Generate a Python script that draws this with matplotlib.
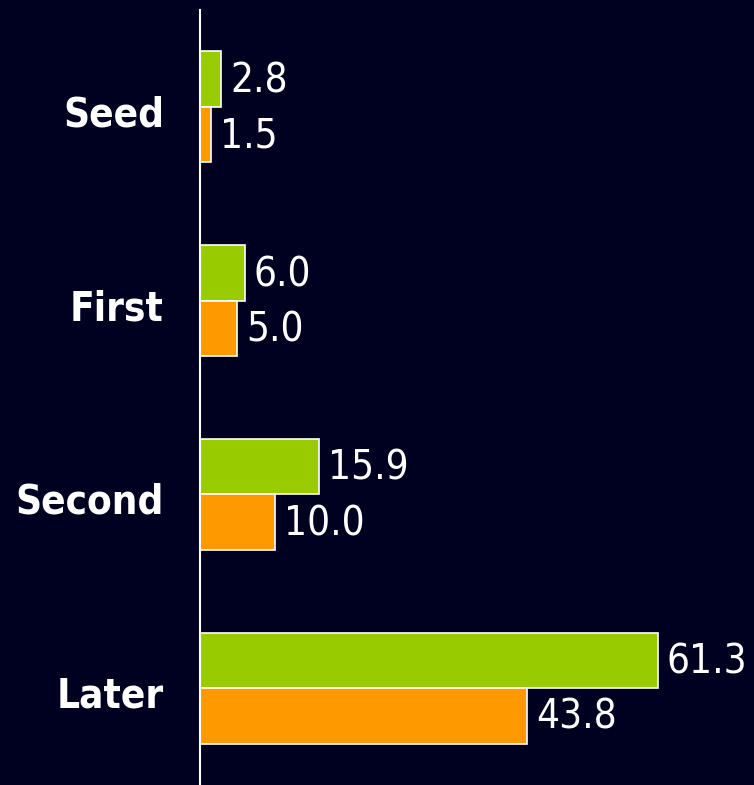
import matplotlib
matplotlib.use("Agg")
import matplotlib.pyplot as plt
import matplotlib.transforms as mtransforms
import numpy as np

categories = ["Seed", "First", "Second", "Later"]
series_a = [2.8, 6.0, 15.9, 61.3]   # green
series_b = [1.5, 5.0, 10.0, 43.8]   # orange
value_labels_a = ["2.8", "6.0", "15.9", "61.3"]
value_labels_b = ["1.5", "5.0", "10.0", "43.8"]

bg = "#000020"
green = "#99CC00"
orange = "#FF9900"

fig = plt.figure(figsize=(7.54, 7.85), dpi=100, facecolor=bg)
ax = fig.add_axes([200/754, 0, 554/754, 775/785], facecolor=bg)

y = np.arange(len(categories))
h = 0.286
ax.barh(y - h/2, series_a, height=h, color=green, edgecolor="white", linewidth=1.2)
ax.barh(y + h/2, series_b, height=h, color=orange, edgecolor="white", linewidth=1.2)

ax.set_xlim(0, 554/7.47)
ax.set_ylim(3.5, -0.5)

valfont = dict(family="DejaVu Sans", stretch="condensed", size=29, color="white")
for yi, v, t in zip(y, series_a, value_labels_a):
    ax.annotate(t, (v, yi - h/2), xytext=(6.5, -1.5), textcoords="offset points",
                va="center", ha="left", **valfont)
for yi, v, t in zip(y, series_b, value_labels_b):
    ax.annotate(t, (v, yi + h/2), xytext=(6.5, -1.5), textcoords="offset points",
                va="center", ha="left", **valfont)

ax.set_yticks(y)
ax.set_yticklabels(categories, family="DejaVu Sans", stretch="condensed",
                   fontweight="bold", fontsize=29, color="white")
ax.tick_params(axis="y", length=0, pad=26)
shift = mtransforms.ScaledTranslation(0, -4/100, fig.dpi_scale_trans)
for lbl in ax.get_yticklabels():
    lbl.set_transform(lbl.get_transform() + shift)
ax.set_xticks([])
for s in ["top", "right", "bottom"]:
    ax.spines[s].set_visible(False)
ax.spines["left"].set_color("white")
ax.spines["left"].set_linewidth(1.5)

fig.savefig("out.png", dpi=100, facecolor=bg)
